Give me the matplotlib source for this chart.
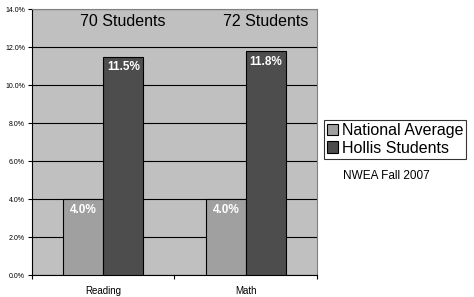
import numpy as np
import matplotlib
matplotlib.use("Agg")
import matplotlib.pyplot as plt
from matplotlib.ticker import FuncFormatter

plt.rcParams['font.family'] = ['Liberation Sans', 'DejaVu Sans']

# Data
categories = ["Reading", "Math"]
series_names = ["National Average", "Hollis Students"]
national = [4.0, 4.0]
hollis = [11.5, 11.8]
student_counts = ["70 Students", "72 Students"]
source_note = "NWEA Fall 2007"

fig = plt.figure(figsize=(4.74, 2.97), dpi=100)
ax = fig.add_axes([32 / 474, 1 - 275 / 297, 285 / 474, 266 / 297])
ax.set_facecolor("#c0c0c0")

x = np.arange(len(categories))
w = 0.28
b1 = ax.bar(x - w / 2, national, w, color="#a0a0a0", edgecolor="black", linewidth=0.8,
            label=series_names[0], zorder=3)
b2 = ax.bar(x + w / 2, hollis, w, color="#4d4d4d", edgecolor="black", linewidth=0.8,
            label=series_names[1], zorder=3)

# value labels inside bar tops
for bars, vals in [(b1, national), (b2, hollis)]:
    for rect, v in zip(bars, vals):
        ax.text(rect.get_x() + rect.get_width() / 2, v - 0.25, f"{v:.1f}%",
                ha="center", va="top", color="white", fontsize=8.5,
                fontweight="bold", zorder=4)

# student counts above the Hollis bars
for xi, txt in zip(x, student_counts):
    ax.text(xi + w / 2, 13.35, txt, ha="center", va="center", fontsize=11.5, zorder=4)

ax.set_xlim(-0.5, 1.5)
ax.set_ylim(0, 14)
ax.set_yticks(np.arange(0, 14.1, 2))
ax.yaxis.set_major_formatter(FuncFormatter(lambda v, p: f"{v:.1f}%"))
ax.tick_params(axis="y", labelsize=5, length=3, width=0.8, pad=2)
ax.set_xticks(x)
ax.set_xticklabels(categories, fontsize=7)
ax.set_xticks([-0.5, 0.5, 1.5], minor=True)
ax.tick_params(axis="x", which="major", length=0, pad=8)
ax.tick_params(axis="x", which="minor", length=3, width=0.8)
ax.grid(axis="y", color="black", linewidth=0.8, zorder=1)

for s in ["left", "bottom"]:
    ax.spines[s].set_color("black")
    ax.spines[s].set_linewidth(0.8)
for s in ["top", "right"]:
    ax.spines[s].set_color("#808080")
    ax.spines[s].set_linewidth(0.8)

leg = fig.legend(handles=[b1, b2], loc="upper left",
                 bbox_to_anchor=(324 / 474, 1 - 120 / 297),
                 fontsize=11.5, frameon=True, fancybox=False,
                 handlelength=0.7, handleheight=0.7, handletextpad=0.2,
                 borderpad=0.2, labelspacing=0.15, borderaxespad=0)
leg.get_frame().set_edgecolor("black")
leg.get_frame().set_linewidth(0.8)

fig.text(343 / 474, 1 - 176 / 297, source_note, ha="left", va="center", fontsize=8.5)

fig.savefig("out.png", dpi=100)
